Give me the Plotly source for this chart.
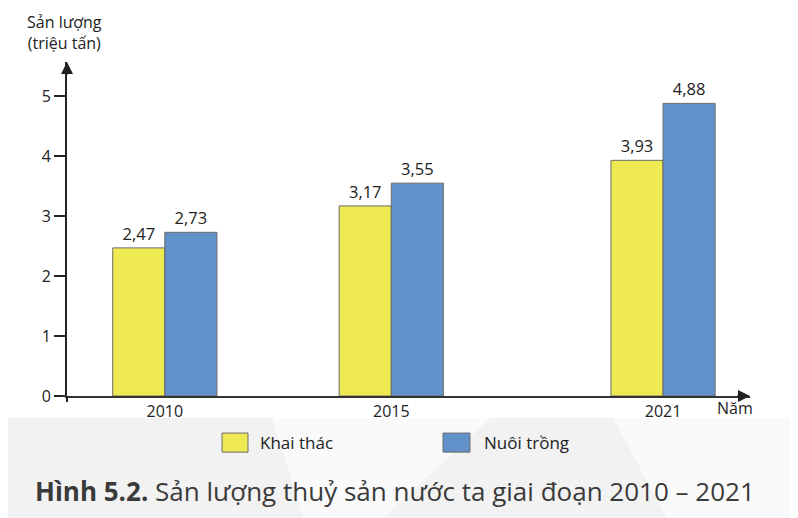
import plotly.graph_objects as go

years = [2010, 2015, 2021]
khai_thac = [2.47, 3.17, 3.93]
nuoi_trong = [2.73, 3.55, 4.88]
series_names = ["Khai thác", "Nuôi trồng"]
colors = ["#EFEA52", "#6290C8"]
y_ticks = [0, 1, 2, 3, 4, 5]
title_bold = "Hình 5.2."
title_rest = "Sản lượng thuỷ sản nước ta giai đoạn 2010 – 2021"
y_title = "Sản lượng<br>(triệu tấn)"
x_title = "Năm"

def fmt(v):
    return f"{v:.2f}".replace(".", ",")

FONT = "Open Sans"
BAR_W = 1.15

fig = go.Figure()
for vals, name, col, off in [(khai_thac, series_names[0], colors[0], -BAR_W),
                             (nuoi_trong, series_names[1], colors[1], 0)]:
    fig.add_trace(go.Bar(
        x=years, y=vals, name=name, width=BAR_W, offset=off,
        marker=dict(color=col, line=dict(color="#6b6b6b", width=1)),
        text=[fmt(v) for v in vals], textposition="outside",
        textfont=dict(family=FONT, size=16.5, color="#222"),
        cliponaxis=False, showlegend=False,
    ))

fig.update_layout(
    width=790, height=510,
    margin=dict(l=59, r=48, t=54, b=122),
    paper_bgcolor="white", plot_bgcolor="rgba(0,0,0,0)",
    barmode="overlay",
    font=dict(family=FONT, color="#222"),
    xaxis=dict(range=[2007.84, 2022.92], tickvals=years, ticktext=[str(y) for y in years],
               showgrid=False, zeroline=False, showline=True, linecolor="#333", linewidth=2,
               ticks="", tickfont=dict(family=FONT, size=16, color="#222")),
    yaxis=dict(range=[0, 5.57], tickvals=y_ticks, showgrid=False, zeroline=False,
               showline=True, linecolor="#222", linewidth=2,
               ticks="outside", ticklen=11, tickwidth=2, tickcolor="#222",
               tickfont=dict(family=FONT, size=16, color="#222")),
)

# light gray background band at bottom
fig.add_shape(type="rect", xref="paper", yref="paper", x0=-0.2, x1=1.2, y0=-0.066, y1=-0.45,
              fillcolor="#f2f2f2", line_width=0, layer="below")
fig.add_shape(type="path", xref="paper", yref="paper",
              path="M 0.30 -0.066 L 0.62 -0.066 L 0.42 -0.45 L 0.36 -0.45 Z",
              fillcolor="#fafafa", line_width=0, layer="below")
fig.add_shape(type="path", xref="paper", yref="paper",
              path="M 0.80 -0.066 L 1.1 -0.066 L 1.1 -0.45 L 0.90 -0.45 Z",
              fillcolor="#fafafa", line_width=0, layer="below")

# small extension of axes past the origin
fig.add_shape(type="line", xref="paper", yref="paper", x0=-0.008, x1=0, y0=0, y1=0,
              line=dict(color="#333", width=2))
fig.add_shape(type="line", xref="paper", yref="paper", x0=0, x1=0, y0=-0.018, y1=0,
              line=dict(color="#222", width=2))

# axis arrows
fig.add_annotation(xref="paper", yref="paper", x=1.0, y=0, ax=-14, ay=0, text="",
                   showarrow=True, arrowhead=2, arrowsize=1.2, arrowwidth=2, arrowcolor="#222")
fig.add_annotation(xref="paper", yref="paper", x=0, y=1.0, ax=0, ay=14, text="",
                   showarrow=True, arrowhead=2, arrowsize=1.2, arrowwidth=2, arrowcolor="#222")

# axis titles
fig.add_annotation(xref="paper", yref="paper", x=-0.004, y=1.088, text=y_title, showarrow=False,
                   xanchor="center", yanchor="middle",
                   font=dict(family=FONT, size=16, color="#222"), align="center")
fig.add_annotation(xref="paper", yref="paper", x=0.978, y=-0.036, text=x_title, showarrow=False,
                   xanchor="center", yanchor="middle",
                   font=dict(family=FONT, size=16, color="#222"))

# legend
legend_pos = [(0.227, 0.265, 0.2796), (0.5505, 0.590, 0.6076)]
for (x0, x1, tx), name, col in zip(legend_pos, series_names, colors):
    fig.add_shape(type="rect", xref="paper", yref="paper", x0=x0, x1=x1, y0=-0.111, y1=-0.168,
                  fillcolor=col, line=dict(color="#6b6b6b", width=1))
    fig.add_annotation(xref="paper", yref="paper", x=tx, y=-0.1407, text=name, showarrow=False,
                       xanchor="left", yanchor="middle",
                       font=dict(family=FONT, size=17, color="#222"))

# caption
fig.add_annotation(xref="paper", yref="paper", x=-0.0498, y=-0.284,
                   text=f"<b>{title_bold}</b> {title_rest}", showarrow=False,
                   xanchor="left", yanchor="middle",
                   font=dict(family=FONT, size=26, color="#3a3a3a"))

fig.write_html("out.html")
